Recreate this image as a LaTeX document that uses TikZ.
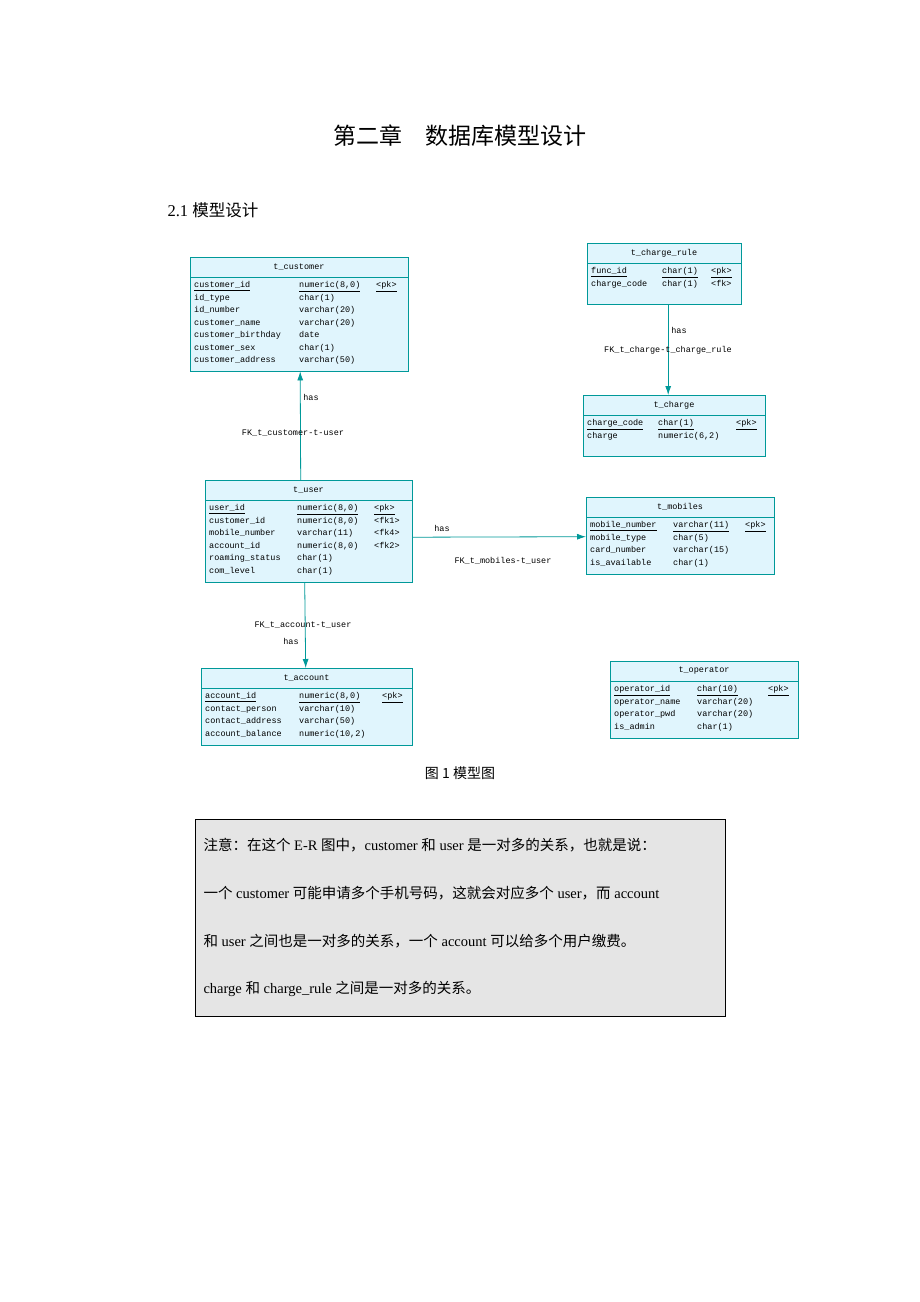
\documentclass[tikz,border=0pt]{standalone}
\usepackage{fontspec}
\setmainfont{Liberation Serif}
\setmonofont{Liberation Mono}
\newfontfamily\cjk{Noto Sans CJK SC}
\usepackage{array}
\tikzset{>=latex}
\usetikzlibrary{positioning,arrows.meta}

\tikzset{
  tbl/.style={draw=teal!80!cyan,fill=cyan!12,anchor=north west,inner sep=0pt},
  fk/.style={draw=teal!80!cyan,thick,-{Latex[length=9pt,width=6pt]}},
  lbl/.style={font=\ttfamily\fontsize{8.5}{12.5}\selectfont,inner sep=1pt}
}
% #1 name, #2 left, #3 top, #4 width, #5 height, #6 title, #7 col1, #8 col2, #9 rows
\newcommand\ertable[9]{%
  \node[tbl,minimum width=#4pt,minimum height=#5pt] (#1) at (#2,#3) {};
  \draw[teal!80!cyan] (#2,#3+20) -- ++(#4,0);
  \node[lbl] at (#2+#4/2,#3+10) {#6};
  \node[lbl,anchor=north west,align=left] at (#2+3,#3+21)
    {\begin{tabular}{@{}p{#7pt}@{}p{#8pt}@{}l@{}}#9\end{tabular}};
}

\begin{document}
\begin{tikzpicture}[x=1pt,y=-1pt]
  \useasboundingbox (0,0) rectangle (920,1302);
  \fill[white] (0,0) rectangle (920,1302);

  \node at (460,136) {\cjk\fontsize{23}{26}\selectfont 第二章\quad 数据库模型设计};
  \node[anchor=west] at (164,210) {\fontsize{16.5}{19}\selectfont 2.1 {\cjk 模型设计}};

  \ertable{customer}{190}{257}{218}{114}{t\_customer}{105}{77}{%
    \underline{customer\_id} & \underline{numeric(8,0)} & \underline{<pk>}\\
    id\_type & char(1) &\\ id\_number & varchar(20) &\\
    customer\_name & varchar(20) &\\ customer\_birthday & date &\\
    customer\_sex & char(1) &\\ customer\_address & varchar(50) &}
  \ertable{rule}{587}{243}{154}{61}{t\_charge\_rule}{71}{49}{%
    \underline{func\_id} & \underline{char(1)} & \underline{<pk>}\\
    charge\_code & char(1) & <fk>}
  \ertable{charge}{583}{395}{182}{61}{t\_charge}{71}{78}{%
    \underline{charge\_code} & \underline{char(1)} & \underline{<pk>}\\
    charge & numeric(6,2) &}
  \ertable{user}{205}{480}{207}{102}{t\_user}{88}{77}{%
    \underline{user\_id} & \underline{numeric(8,0)} & \underline{<pk>}\\
    customer\_id & numeric(8,0) & <fk1>\\
    mobile\_number & varchar(11) & <fk4>\\
    account\_id & numeric(8,0) & <fk2>\\
    roaming\_status & char(1) &\\ com\_level & char(1) &}
  \ertable{mobiles}{586}{497}{188}{77}{t\_mobiles}{83}{72}{%
    \underline{mobile\_number} & \underline{varchar(11)} & \underline{<pk>}\\
    mobile\_type & char(5) &\\ card\_number & varchar(15) &\\
    is\_available & char(1) &}
  \ertable{account}{201}{668}{211}{77}{t\_account}{94}{83}{%
    \underline{account\_id} & \underline{numeric(8,0)} & \underline{<pk>}\\
    contact\_person & varchar(10) &\\ contact\_address & varchar(50) &\\
    account\_balance & numeric(10,2) &}
  \ertable{operator}{610}{661}{188}{77}{t\_operator}{83}{71}{%
    \underline{operator\_id} & \underline{char(10)} & \underline{<pk>}\\
    operator\_name & varchar(20) &\\ operator\_pwd & varchar(20) &\\
    is\_admin & char(1) &}

  % references
  \draw[fk] ([xshift=-8pt]user.north) -- ([xshift=1pt]customer.south);
  \node[lbl] at (311,397) {has};
  \node[lbl] at (293,433) {FK\_t\_customer-t-user};
  \draw[fk] ([xshift=4pt]rule.south) -- ([xshift=-6pt]charge.north);
  \node[lbl] at (679,330) {has};
  \node[lbl] at (668,350) {FK\_t\_charge-t\_charge\_rule};
  \draw[fk] ([yshift=-6pt]user.east) -- ([yshift=-1pt]mobiles.west);
  \node[lbl] at (442,528) {has};
  \node[lbl] at (503,561) {FK\_t\_mobiles-t\_user};
  \draw[fk] ([xshift=-4pt]user.south) -- ([xshift=-1pt]account.north);
  \node[lbl] at (303,625) {FK\_t\_account-t\_user};
  \node[lbl] at (291,641) {has};

  \node at (460,773) {\fontsize{14}{16}\selectfont\cjk 图\ 1\ 模型图};

  % note box
  \node[draw,thick,fill=gray!20,minimum width=530pt,minimum height=197pt,anchor=north west]
    (note) at (195,819) {};
  \begin{scope}[every node/.style={anchor=west,font=\fontsize{14.5}{16}\selectfont}]
    \node at (200,845) {{\cjk 注意：在这个} E-R {\cjk 图中，}customer {\cjk 和} user {\cjk 是一对多的关系，也就是说：}};
    \node at (200,893) {{\cjk 一个} customer {\cjk 可能申请多个手机号码，这就会对应多个} user{\cjk ，而} account};
    \node at (200,941) {{\cjk 和} user {\cjk 之间也是一对多的关系，一个} account {\cjk 可以给多个用户缴费。}};
    \node at (200,989) {charge {\cjk 和} charge\_rule {\cjk 之间是一对多的关系。}};
  \end{scope}
\end{tikzpicture}
\end{document}
